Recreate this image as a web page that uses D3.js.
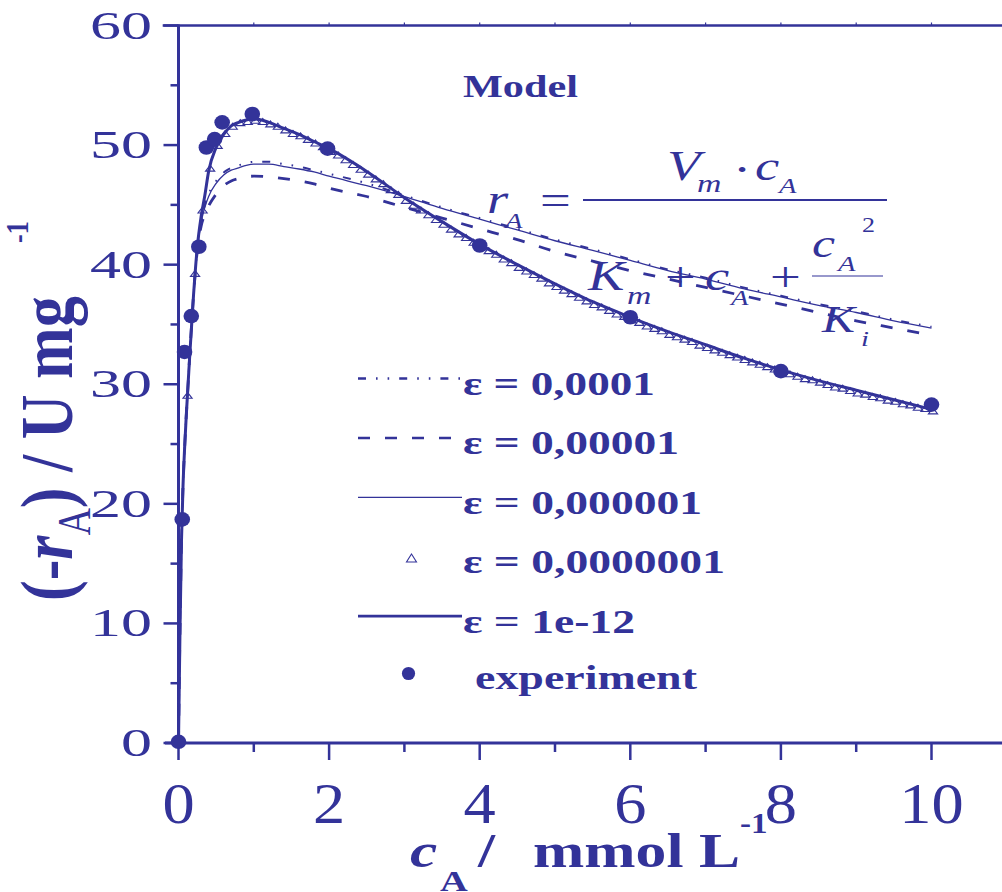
<!DOCTYPE html>
<html>
<head>
<meta charset="utf-8">
<script src="https://cdn.jsdelivr.net/npm/d3@7"></script>
<style>
  html, body { margin: 0; padding: 0; background: #ffffff; }
  svg { display: block; }
  text { font-family: "Liberation Serif", "Times New Roman", serif; fill: #333399; }
</style>
</head>
<body>
<svg id="chart" width="1002" height="892"></svg>
<script>
// ---------------- data ----------------
// substrate concentration grid used by the model curves (mmol/L)
const cGrid = [0, 0.02, 0.04, 0.06, 0.08, 0.1, 0.12, 0.15, 0.2, 0.25, 0.3, 0.35, 0.4,
  0.5, 0.6, 0.7, 0.8, 0.9, 1.0, 1.2, 1.4, 1.6, 1.8, 2.0, 2.5, 3.0, 3.5, 4.0, 4.5,
  5.0, 5.5, 6.0, 6.5, 7.0, 7.5, 8.0, 8.5, 9.0, 9.5, 10.0];

// model rate (-rA), U/mg, for each tolerance
const rEps1e4 = [0, 9.5, 17, 21.5, 24.5, 27, 29.2, 32.5, 37.5, 41.3, 43.6, 45.0, 45.9,
  47.0, 47.7, 48.1, 48.3, 48.5, 48.6, 48.6, 48.4, 48.2, 47.9, 47.6, 46.8, 45.8, 44.8,
  43.9, 43.0, 42.1, 41.3, 40.45, 39.6, 38.9, 38.1, 37.4, 36.7, 36.1, 35.4, 34.8];
const rEps1e5 = [0, 9.5, 17, 21.5, 24.5, 27, 29.2, 32.5, 37.5, 41.2, 43.2, 44.2, 44.9,
  45.9, 46.6, 47.0, 47.2, 47.35, 47.4, 47.35, 47.2, 47.0, 46.75, 46.4, 45.7, 44.8, 43.9,
  43.0, 42.1, 41.1, 40.3, 39.5, 38.8, 38.1, 37.4, 36.7, 36.0, 35.3, 34.7, 34.1];
const rEps1e6 = [0, 9.5, 17, 21.5, 24.5, 27, 29.2, 32.5, 37.5, 41.3, 43.5, 44.8, 45.7,
  46.8, 47.5, 47.9, 48.1, 48.3, 48.4, 48.4, 48.2, 48.0, 47.75, 47.4, 46.6, 45.7, 44.7,
  43.8, 42.9, 42.0, 41.2, 40.35, 39.5, 38.8, 38.0, 37.3, 36.6, 36.0, 35.3, 34.7];
const rEps1e12 = [0, 9.5, 17, 21.5, 24.5, 27, 29.2, 32.5, 37.5, 41.5, 44.0, 45.8, 47.8,
  49.8, 50.9, 51.6, 51.9, 52.1, 52.2, 51.9, 51.4, 50.9, 50.3, 49.7, 47.8, 45.6, 43.6,
  41.7, 40.0, 38.4, 36.9, 35.6, 34.4, 33.3, 32.2, 31.2, 30.3, 29.5, 28.7, 27.9];

// eps = 1e-7 solver output points (triangles)
const cEps1e7 = [0.12, 0.22, 0.32, 0.42, 0.52, 0.62, 0.72, 0.82, 0.92,
  1.02, 1.12, 1.22, 1.32, 1.42, 1.52, 1.62, 1.72, 1.82, 1.92,
  2.02, 2.12, 2.22, 2.32, 2.42, 2.52, 2.62, 2.72, 2.82, 2.92,
  3.02, 3.12, 3.22, 3.32, 3.42, 3.52, 3.62, 3.72, 3.82, 3.92,
  4.02, 4.12, 4.22, 4.32, 4.42, 4.52, 4.62, 4.72, 4.82, 4.92,
  5.02, 5.12, 5.22, 5.32, 5.42, 5.52, 5.62, 5.72, 5.82, 5.92,
  6.02, 6.12, 6.22, 6.32, 6.42, 6.52, 6.62, 6.72, 6.82, 6.92,
  7.02, 7.12, 7.22, 7.32, 7.42, 7.52, 7.62, 7.72, 7.82, 7.92,
  8.02, 8.12, 8.22, 8.32, 8.42, 8.52, 8.62, 8.72, 8.82, 8.92,
  9.02, 9.12, 9.22, 9.32, 9.42, 9.52, 9.62, 9.72, 9.82, 9.92, 10.02];
const rEps1e7 = [29.2, 39.4, 44.7, 48.2, 50.1, 51.1, 51.7, 52.0, 52.1,
  52.2, 52.1, 51.9, 51.7, 51.4, 51.1, 50.9, 50.6, 50.3, 50.0,
  49.6, 49.3, 48.9, 48.5, 48.1, 47.7, 47.3, 46.9, 46.4, 46.0,
  45.5, 45.1, 44.7, 44.3, 43.9, 43.5, 43.1, 42.7, 42.4, 42.0,
  41.6, 41.3, 41.0, 40.6, 40.3, 39.9, 39.6, 39.3, 39.0, 38.6,
  38.3, 38.0, 37.7, 37.4, 37.1, 36.8, 36.6, 36.3, 36.0, 35.8,
  35.5, 35.3, 35.0, 34.8, 34.6, 34.3, 34.1, 33.9, 33.7, 33.4,
  33.2, 33.0, 32.8, 32.6, 32.4, 32.2, 32.0, 31.8, 31.6, 31.4,
  31.2, 31.0, 30.8, 30.6, 30.5, 30.3, 30.1, 29.9, 29.8, 29.6,
  29.4, 29.3, 29.1, 29.0, 28.8, 28.7, 28.5, 28.4, 28.2, 28.1, 27.9];

// measured rates
const cExp = [0, 0.05, 0.08, 0.17, 0.27, 0.37, 0.48, 0.58, 0.98, 1.98, 4, 6, 8, 10];
const rExp = [0.1, 18.7, 32.7, 35.7, 41.5, 49.8, 50.5, 51.9, 52.6, 49.7, 41.6, 35.6, 31.1, 28.3];

// axes
const xMajorTicks = [0, 2, 4, 6, 8, 10];
const xMinorTicks = [1, 3, 5, 7, 9];
const xTopTicks = [1, 2, 3, 4, 5, 6, 7, 8, 9, 10];
const yMajorTicks = [0, 10, 20, 30, 40, 50, 60];
const yMinorTicks = [5, 15, 25, 35, 45, 55];

// legend
const legendLabels = ["ε = 0,0001", "ε = 0,00001", "ε = 0,000001", "ε = 0,0000001", "ε = 1e-12", "experiment"];

// ---------------- drawing ----------------
const INK = "#333399";
const svg = d3.select("#chart");

const x = d3.scaleLinear().domain([0, 10]).range([178.5, 931.5]);
const y = d3.scaleLinear().domain([0, 60]).range([743, 25.5]);

// text helper: horizontal stretch either fixed (sx) or fitted to a width
function addText(parent, o) {
  const t = parent.append("text")
    .attr("font-size", o.size)
    .attr("font-weight", o.weight || "normal")
    .attr("font-style", o.style || "normal")
    .attr("text-anchor", o.anchor || "start")
    .text(o.text);
  let sx = o.sx || 1;
  if (o.width) sx = o.width / t.node().getComputedTextLength();
  t.attr("transform", `translate(${o.x},${o.y}) scale(${sx},1)`);
  return t;
}

// ----- frame and axes -----
const axes = svg.append("g").attr("stroke", INK).attr("fill", "none");
// top border
axes.append("line").attr("x1", x(-0.21)).attr("x2", x(11.2))
  .attr("y1", y(60)).attr("y2", y(60)).attr("stroke-width", 2.5);
// left axis line
axes.append("line").attr("x1", x(0)).attr("x2", x(0))
  .attr("y1", y(60) - 1).attr("y2", y(0)).attr("stroke-width", 3);
// bottom axis line
axes.append("line").attr("x1", x(-0.18)).attr("x2", x(11.2))
  .attr("y1", y(0)).attr("y2", y(0)).attr("stroke-width", 3);

// y ticks
axes.selectAll(".ymaj").data(yMajorTicks).join("line")
  .attr("x1", x(0) - 15).attr("x2", x(0))
  .attr("y1", d => y(d)).attr("y2", d => y(d)).attr("stroke-width", 2.5);
axes.selectAll(".ymin").data(yMinorTicks).join("line")
  .attr("x1", x(0) - 8).attr("x2", x(0))
  .attr("y1", d => y(d)).attr("y2", d => y(d)).attr("stroke-width", 2.5);
// x ticks
axes.selectAll(".xmaj").data(xMajorTicks).join("line")
  .attr("x1", d => x(d)).attr("x2", d => x(d))
  .attr("y1", y(0)).attr("y2", y(0) + 17).attr("stroke-width", 2.5);
axes.selectAll(".xmin").data(xMinorTicks).join("line")
  .attr("x1", d => x(d)).attr("x2", d => x(d))
  .attr("y1", y(0)).attr("y2", y(0) + 9).attr("stroke-width", 2.5);
axes.selectAll(".xtop").data(xTopTicks).join("line")
  .attr("x1", d => x(d)).attr("x2", d => x(d))
  .attr("y1", y(60) - 3).attr("y2", y(60)).attr("stroke-width", 1.2);

// tick labels
const labels = svg.append("g");
yMajorTicks.forEach(v => addText(labels, { x: 152, y: y(v) + 13, text: String(v), size: 40, anchor: "end", sx: 1.55 }));
xMajorTicks.forEach(v => addText(labels, { x: x(v), y: 823, text: String(v), size: 56, anchor: "middle", sx: 1.15 }));

// ----- axis titles -----
// x title: c_A /  mmol L^-1
addText(labels, { x: 410, y: 867, text: "c", size: 48, weight: "bold", style: "italic", sx: 1.28 });
addText(labels, { x: 440, y: 891, text: "A", size: 30, weight: "bold", sx: 1.28 });
addText(labels, { x: 478, y: 867, text: "/", size: 48, weight: "bold", sx: 1.28 });
addText(labels, { x: 533, y: 867, text: "mmol L", size: 48, weight: "bold", width: 207 });
addText(labels, { x: 740, y: 833, text: "-1", size: 30, weight: "bold", sx: 1.1 });

// y title: (-r_A) / U mg^-1, rotated
const yt = svg.append("g").attr("transform", "translate(72,601) scale(1.2,1) rotate(-90)");
const ytt = yt.append("text").attr("font-size", 62).attr("font-weight", "bold");
ytt.append("tspan").text("(-");
ytt.append("tspan").attr("font-style", "italic").text("r");
ytt.append("tspan").attr("font-size", 38).attr("font-weight", "normal").attr("dy", 15).text("A");
ytt.append("tspan").attr("dy", -15).text(") / U mg");
yt.append("text").attr("x", 358).attr("y", -37).attr("font-size", 26).attr("font-weight", "bold").text("-1");

// ----- model title and rate equation -----
addText(labels, { x: 463, y: 97, text: "Model", size: 31, weight: "bold", width: 115 });

const eq = svg.append("g");
const it = (xx, yy, t, s, st) => addText(eq, { x: xx, y: yy, text: t, size: s, style: st === undefined ? "italic" : st, sx: 1.3 });
it(487, 213, "r", 42);
it(505, 228, "A", 22);
it(540, 214, "=", 42, "normal");
it(667, 180, "V", 42);
it(697, 192, "m", 26);
it(733, 184, "·", 42, "normal");
it(755, 180, "c", 42);
it(779, 193, "A", 22);
it(588, 290, "K", 42);
it(627, 304, "m", 26);
it(665, 291, "+", 42, "normal");
it(705, 290, "c", 42);
it(731, 305, "A", 22);
it(770, 291, "+", 42, "normal");
it(812, 257, "c", 40);
it(838, 271, "A", 22);
it(862, 232, "2", 20, "normal");
it(822, 332, "K", 38);
it(861, 346, "i", 22);
eq.append("line").attr("x1", 583).attr("x2", 887).attr("y1", 200).attr("y2", 200)
  .attr("stroke", INK).attr("stroke-width", 2);
eq.append("line").attr("x1", 812).attr("x2", 883).attr("y1", 276).attr("y2", 276)
  .attr("stroke", INK).attr("stroke-width", 1.2);

// ----- series -----
const plot = svg.append("g");
const line = d3.line().x(d => x(d[0])).y(d => y(d[1])).curve(d3.curveMonotoneX);
const pairs = (cs, rs) => cs.map((c, i) => [c, rs[i]]);

const styles = {
  e4: { w: 2.0, dash: "8,10,1.6,10,1.6,10" },
  e5: { w: 2.8, dash: "12,15" },
  e6: { w: 1.3, dash: null },
  e12: { w: 3.0, dash: null }
};

// triangle marker (open, apex on the point)
const tri = (px, py, hw, h) => `M${px},${py - 1.5}L${px + hw},${py - 1.5 + h}L${px - hw},${py - 1.5 + h}Z`;

plot.selectAll(".tri").data(pairs(cEps1e7, rEps1e7)).join("path")
  .attr("d", d => tri(x(d[0]), y(d[1]), 4.6, 6))
  .attr("fill", "none").attr("stroke", INK).attr("stroke-width", 1.1);

[[rEps1e4, styles.e4], [rEps1e5, styles.e5], [rEps1e6, styles.e6], [rEps1e12, styles.e12]]
  .forEach(([rs, st]) => {
    plot.append("path").datum(pairs(cGrid, rs))
      .attr("d", line).attr("fill", "none").attr("stroke", INK)
      .attr("stroke-width", st.w).attr("stroke-dasharray", st.dash);
  });

plot.selectAll(".exp").data(pairs(cExp, rExp)).join("ellipse")
  .attr("cx", d => x(d[0])).attr("cy", d => y(d[1]))
  .attr("rx", 7.8).attr("ry", 7.3).attr("fill", INK);

// ----- legend -----
const lg = svg.append("g");
const lgBase = 395, lgStep = 59.4, lgX0 = 358, lgX1 = 462;
const lineRows = [[0, styles.e4], [1, styles.e5], [2, styles.e6], [4, styles.e12]];
lineRows.forEach(([i, st]) => {
  lg.append("line").attr("x1", lgX0).attr("x2", lgX1)
    .attr("y1", lgBase + i * lgStep - 16.5).attr("y2", lgBase + i * lgStep - 16.5)
    .attr("stroke", INK).attr("stroke-width", i === 2 ? 1.3 : (i === 4 ? 2.6 : 2.5))
    .attr("stroke-dasharray", st.dash);
});
lg.append("path").attr("d", `M411.5,554L416.5,562L406.5,562Z`)
  .attr("fill", "none").attr("stroke", INK).attr("stroke-width", 1.1);
lg.append("circle").attr("cx", 408.5).attr("cy", 673.5).attr("r", 6.6).attr("fill", INK);

const lgWidths = [192, 216, 239, 262, 172, 222];
legendLabels.forEach((t, i) => {
  addText(lg, { x: i === 5 ? 475 : 463, y: lgBase + i * lgStep - (i === 5 ? 3 : 0), text: t, size: 34, weight: "bold", width: lgWidths[i] });
});
</script>
</body>
</html>
